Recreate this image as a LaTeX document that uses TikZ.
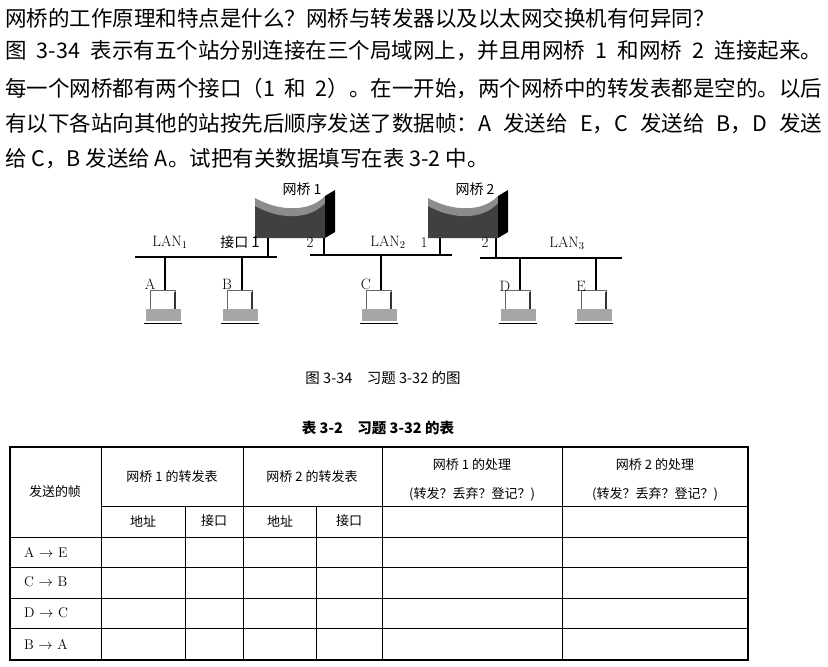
\documentclass[tikz,border=0pt]{standalone}
\usepackage{fontspec}
\newfontfamily\cjk{Noto Sans CJK SC}
\begin{document}
\begin{tikzpicture}[x=1pt,y=-1pt,
  txt/.style={font=\cjk\fontsize{21.5}{24}\selectfont,anchor=west,inner sep=0},
  lbl/.style={font=\fontsize{15}{17}\selectfont,inner sep=0},
  clbl/.style={font=\cjk\fontsize{14}{16}\selectfont,inner sep=0},
  lan/.style={line width=1.3pt},
  drop/.style={line width=1.1pt},
  cell/.style={font=\cjk\fontsize{13}{15}\selectfont,inner sep=0}]
\useasboundingbox (0,0) rectangle (828,667);
\fill[white] (0,0) rectangle (828,667);
% text
\node[txt] (t1) at (5,18) {网桥的工作原理和特点是什么？网桥与转发器以及以太网交换机有何异同？};
\node[txt] (t2) at (5,51) {\makebox[817pt][s]{图 3-34 表示有五个站分别连接在三个局域网上，并且用网桥 1 和网桥 2 连接起来。}};
\node[txt] (t3) at (5,88) {\makebox[817pt][s]{每一个网桥都有两个接口（1 和 2）。在一开始，两个网桥中的转发表都是空的。以后}};
\node[txt] (t4) at (5,124) {\makebox[817pt][s]{有以下各站向其他的站按先后顺序发送了数据帧：A 发送给 E，C 发送给 B，D 发送}};
\node[txt] (t5) at (5,159) {给 C，B 发送给 A。试把有关数据填写在表 3-2 中。};
% bridges
\foreach \bx/\nm in {255/1,428/2}{
  \fill[black!75] (\bx,204) .. controls (\bx+25,218) and (\bx+55,218) .. (\bx+70,198) -- (\bx+70,238) -- (\bx,238) -- cycle;
  \fill[black!45] (\bx,198) .. controls (\bx+25,212) and (\bx+55,212) .. (\bx+70,196) -- (\bx+70,203) .. controls (\bx+55,220) and (\bx+25,220) .. (\bx,206) -- cycle;
  \fill[black] (\bx+70,196) -- (\bx+80,190) -- (\bx+80,232) -- (\bx+70,238) -- cycle;
  \node[clbl] (br\nm) at (\bx+47,189) {网桥 \nm};
}
% LANs
\draw[lan] (135,257) coordinate (l1a) -- (277,257) coordinate (l1b);
\draw[lan] (310,255) coordinate (l2a) -- (452,255) coordinate (l2b);
\draw[lan] (480,258) coordinate (l3a) -- (622,258) coordinate (l3b);
\draw[drop] (268,238) -- (268,257);
\draw[drop] (324,238) -- (324,255);
\draw[drop] (440,238) -- (440,255);
\draw[drop] (496,238) -- (496,258);
\node[lbl] (L1) at (170,242) {LAN\textsubscript{1}};
\node[clbl] (p11) at (240,242) {接口 \fontsize{15}{17}\selectfont 1};
\node[lbl] (p12) at (310,243) {2};
\node[lbl] (L2) at (388,242) {LAN\textsubscript{2}};
\node[lbl] (p21) at (424,243) {1};
\node[lbl] (p22) at (485,243) {2};
\node[lbl] (L3) at (567,243) {LAN\textsubscript{3}};
% stations
\foreach \sx/\sy/\s/\ly in {165/257/A/284,242/257/B/284,381/255/C/284,520/258/D/286,596/258/E/286}{
  \draw[drop] (\sx,\sy) -- (\sx,290);
  \draw[black!60,fill=white] (\sx-15,290) rectangle (\sx+10,309);
  \fill[black!80] (\sx+9,292) rectangle (\sx+11,309);
  \fill[black!35] (\sx-19,309) rectangle (\sx+16,321);
  \draw[line width=1pt] (\sx-21,323) -- (\sx+17,323);
  \node[lbl] (s\s) at (\sx-15,\ly) {\s};
}
% captions
\node[cell,font=\cjk\fontsize{14.5}{16}\selectfont] (cap1) at (383,378) {图 3-34\quad 习题 3-32 的图};
\node[cell,font=\cjk\bfseries\fontsize{14.5}{16}\selectfont] (cap2) at (378,428) {表 3-2\quad 习题 3-32 的表};
% table
\draw[line width=1.2pt] (10,447) rectangle (748,660);
\foreach \y in {537,567,598,628} \draw[line width=0.8pt] (10,\y) -- (748,\y);
\draw[line width=0.8pt] (101,506) -- (748,506);
\foreach \x in {101,243,382,562} \draw[line width=0.8pt] (\x,447) -- (\x,660);
\foreach \x in {185,316} \draw[line width=0.8pt] (\x,506) -- (\x,660);
\node[cell] (h0) at (55,492) {发送的帧};
\node[cell] (h1) at (172,477) {网桥 1 的转发表};
\node[cell] (h2) at (312,477) {网桥 2 的转发表};
\node[cell] (h3) at (472,465) {网桥 1 的处理};
\node[cell] (h3b) at (472,494) {(转发？丢弃？登记？)};
\node[cell] (h4) at (655,465) {网桥 2 的处理};
\node[cell] (h4b) at (655,494) {(转发？丢弃？登记？)};
\node[cell] (a1) at (143,521) {地址};
\node[cell] (a2) at (214,521) {接口};
\node[cell] (a3) at (280,521) {地址};
\node[cell] (a4) at (349,521) {接口};
\foreach \y/\t in {552/A $\rightarrow$ E,582/C $\rightarrow$ B,613/D $\rightarrow$ C,644/B $\rightarrow$ A}
  \node[lbl,anchor=west,font=\fontsize{14}{16}\selectfont] at (24,\y) {\t};
\end{tikzpicture}
\end{document}
